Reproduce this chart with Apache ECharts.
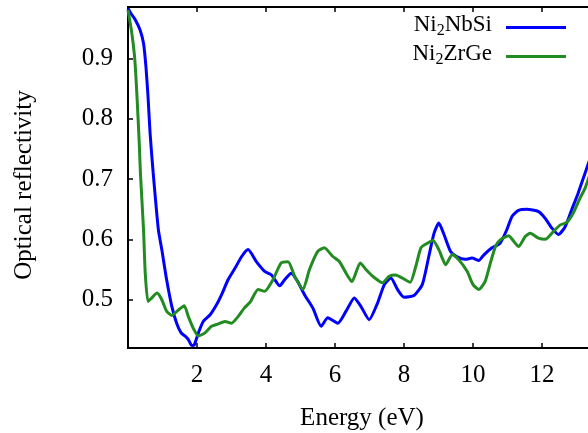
<!DOCTYPE html>
<html>
<head>
<meta charset="utf-8">
<script src="https://cdn.jsdelivr.net/npm/echarts@6/dist/echarts.min.js"></script>
<style>
  html, body { margin: 0; padding: 0; background: #fff; }
  #chart { width: 588px; height: 433px; }
</style>
</head>
<body>
<div id="chart"></div>
<script>
// Ni2NbSi
const nbsiEnergy = [0, 0.1, 0.21, 0.35, 0.45, 0.52, 0.58, 0.64, 0.73, 0.88, 0.98, 1.12, 1.27, 1.41, 1.54, 1.65, 1.75, 1.85, 1.92,
  2.04, 2.18, 2.38, 2.57, 2.71, 2.9, 3.1, 3.3, 3.48, 3.72, 3.96, 4.16, 4.4, 4.54, 4.73, 4.92, 5.12, 5.36, 5.6, 5.79, 6.08,
  6.32, 6.56, 6.75, 6.99, 7.23, 7.43, 7.62, 7.81, 8.0, 8.29, 8.53, 8.72, 8.87, 9.01, 9.16, 9.35, 9.54, 9.78, 9.97, 10.17,
  10.31, 10.55, 10.79, 10.98, 11.13, 11.32, 11.56, 11.9, 12.09, 12.28, 12.48, 12.67, 12.86, 13.05, 13.25, 13.4];
const nbsiR = [0.983, 0.973, 0.964, 0.947, 0.925, 0.886, 0.837, 0.776, 0.71, 0.616, 0.583, 0.533, 0.489, 0.461, 0.445, 0.44, 0.434, 0.424, 0.425,
  0.445, 0.464, 0.475, 0.492, 0.508, 0.533, 0.552, 0.572, 0.583, 0.563, 0.547, 0.541, 0.523, 0.533, 0.544, 0.53, 0.508, 0.486, 0.456, 0.47, 0.461,
  0.481, 0.503, 0.489, 0.467, 0.494, 0.525, 0.536, 0.517, 0.504, 0.507, 0.525, 0.572, 0.61, 0.627, 0.608, 0.58, 0.571, 0.567, 0.569, 0.565,
  0.574, 0.586, 0.594, 0.616, 0.638, 0.648, 0.65, 0.646, 0.635, 0.619, 0.608, 0.621, 0.649, 0.677, 0.71, 0.735];

// Ni2ZrGe
const zrgeEnergy = [0, 0.11, 0.19, 0.24, 0.29, 0.33, 0.36, 0.45, 0.5, 0.58, 0.69, 0.84, 0.98, 1.12, 1.27, 1.46, 1.63, 1.75, 1.89,
  2.04, 2.23, 2.42, 2.62, 2.81, 3.0, 3.19, 3.37, 3.55, 3.77, 3.96, 4.2, 4.44, 4.64, 4.83, 5.07, 5.26, 5.5, 5.69, 5.93, 6.13,
  6.32, 6.49, 6.73, 6.9, 7.09, 7.38, 7.57, 7.76, 7.95, 8.18, 8.34, 8.49, 8.63, 8.84, 9.01, 9.21, 9.4, 9.59, 9.83, 10.0,
  10.17, 10.35, 10.5, 10.65, 10.79, 11.03, 11.18, 11.32, 11.52, 11.66, 11.9, 12.09, 12.33, 12.53, 12.72, 12.91, 13.1, 13.25, 13.4];
const zrgeR = [0.98, 0.942, 0.903, 0.859, 0.803, 0.754, 0.71, 0.616, 0.544, 0.497, 0.503, 0.511, 0.5, 0.481, 0.474, 0.483, 0.49, 0.472, 0.453,
  0.44, 0.445, 0.456, 0.46, 0.464, 0.461, 0.472, 0.486, 0.497, 0.517, 0.514, 0.533, 0.561, 0.563, 0.539, 0.517, 0.55, 0.58, 0.586, 0.572, 0.563,
  0.544, 0.53, 0.561, 0.55, 0.539, 0.528, 0.539, 0.541, 0.536, 0.529, 0.555, 0.586, 0.592, 0.598, 0.583, 0.558, 0.575, 0.566, 0.547, 0.525,
  0.517, 0.53, 0.56, 0.588, 0.599, 0.606, 0.597, 0.588, 0.605, 0.61, 0.602, 0.6, 0.613, 0.624, 0.628, 0.644, 0.668, 0.685, 0.71];

const xTicks = [2, 4, 6, 8, 10, 12, 14];
const xLabels = [2, 4, 6, 8, 10, 12];
const yTicks = [0.5, 0.6, 0.7, 0.8, 0.9];

const font = "Liberation Serif";

const myChart = echarts.init(document.getElementById("chart"));

const pairs = (xs, ys) => xs.map((x, i) => [x, ys[i]]);

// subscript "2": both token kinds get the same height, text shifted apart by the padding
const legendRich = {
  n: { fontFamily: font, fontSize: 23, lineHeight: 17, padding: [0, 0, 6, 0], color: "#000" },
  s: { fontFamily: font, fontSize: 16, lineHeight: 17, padding: [6, 0, 0, 0], color: "#000" },
};

const tickStyle = { color: "#000", width: 1.5 };

myChart.setOption({
  animation: false,
  backgroundColor: "#fff",
  grid: {
    left: 128,
    top: 7,
    right: -23,
    bottom: 85,
    outerBoundsMode: "none",
    containLabel: false,
    show: true,
    borderColor: "#000",
    borderWidth: 2,
  },
  legend: {
    orient: "vertical",
    right: 22,
    top: 13,
    padding: 0,
    align: "right",
    icon: "rect",
    itemWidth: 60,
    itemHeight: 3,
    itemGap: 0,
    selectedMode: false,
    formatter(name) {
      return name === "Ni2NbSi" ? "{n|Ni}{s|2}{n|NbSi}" : "{n|Ni}{s|2}{n|ZrGe}";
    },
    textStyle: { padding: [0, 9, 0, 0], rich: legendRich },
  },
  xAxis: [
    {
      type: "value",
      min: 0,
      max: 14,
      splitLine: { show: false },
      axisLine: { lineStyle: { color: "#000", width: 2 } },
      axisTick: { inside: true, length: 5, customValues: xTicks, lineStyle: tickStyle },
      axisLabel: { customValues: xLabels, margin: 15, color: "#000", fontFamily: font, fontSize: 25 },
    },
    {
      type: "value",
      position: "top",
      min: 0,
      max: 14,
      splitLine: { show: false },
      axisLine: { lineStyle: { color: "#000", width: 2 } },
      axisTick: { inside: true, length: 5, customValues: xTicks, lineStyle: tickStyle },
      axisLabel: { show: false },
    },
  ],
  yAxis: {
    type: "value",
    min: 0.42,
    max: 0.985,
    splitLine: { show: false },
    axisLine: { show: true, lineStyle: { color: "#000", width: 2 } },
    axisTick: { show: true, inside: true, length: 5, customValues: yTicks, lineStyle: tickStyle },
    axisLabel: {
      customValues: yTicks,
      margin: 15,
      color: "#000",
      fontFamily: font,
      fontSize: 25,
      formatter: (v) => v.toFixed(1),
    },
  },
  graphic: [
    {
      type: "text",
      x: 362,
      y: 418,
      style: { text: "Energy (eV)", fontFamily: font, fontSize: 25, fill: "#000", align: "center", verticalAlign: "middle" },
    },
    {
      type: "text",
      x: 24,
      y: 185,
      rotation: Math.PI / 2,
      style: { text: "Optical reflectivity", fontFamily: font, fontSize: 25, fill: "#000", align: "center", verticalAlign: "middle" },
    },
  ],
  series: [
    { name: "Ni2NbSi", color: "#0000ff", data: pairs(nbsiEnergy, nbsiR) },
    { name: "Ni2ZrGe", color: "#228b22", data: pairs(zrgeEnergy, zrgeR) },
  ].map((s) => ({
    ...s,
    type: "line",
    smooth: 0.2,
    showSymbol: false,
    lineStyle: { width: 3, color: s.color },
    itemStyle: { color: s.color },
  })),
});
</script>
</body>
</html>
